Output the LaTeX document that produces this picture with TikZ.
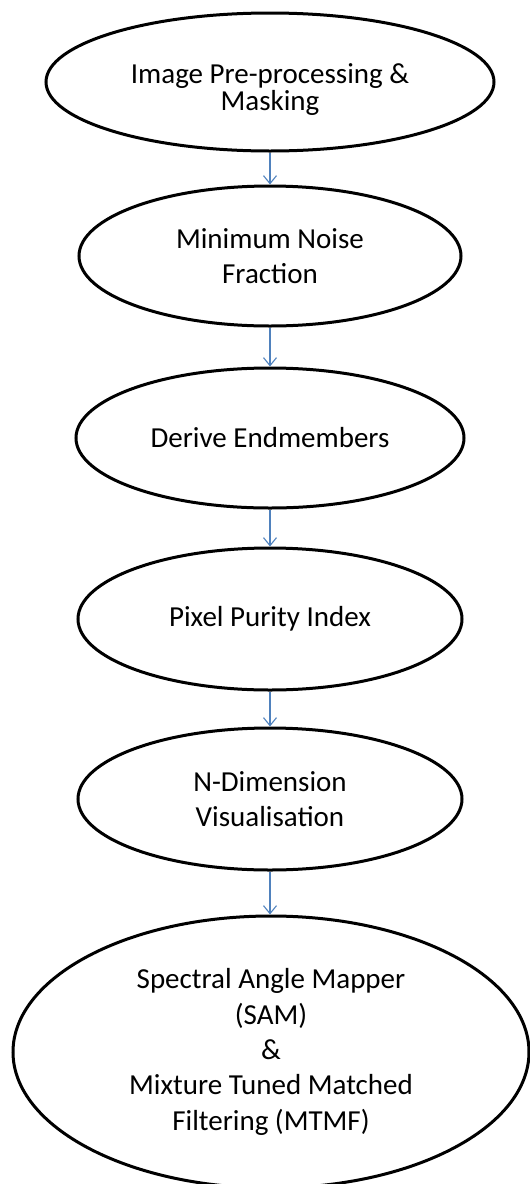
\documentclass[tikz,border=0pt]{standalone}
\usepackage{fontspec}
\setmainfont{Carlito}
\usetikzlibrary{shapes.geometric,arrows.meta}
\definecolor{flowblue}{HTML}{4F81BD}
\tikzset{
  stage/.style={ellipse, draw=black, line width=3pt, inner sep=0pt,
    align=center, font=\fontsize{29}{35.4}\selectfont},
  caption/.style={inner sep=0pt, align=center, font=\fontsize{29}{27}\selectfont},
  flow/.style={draw=flowblue, line width=1.1pt,
    -{Straight Barb[length=8pt,width=13pt,line width=1.1pt]}}
}
\begin{document}
\begin{tikzpicture}[x=1pt,y=-1pt]
  \useasboundingbox (0,0) rectangle (530,1184);
  \clip (0,0) rectangle (530,1184);
  % first stage: its two lines sit a little below the ellipse centre
  \node[stage, minimum width=448pt, minimum height=138pt] (pre) at (270,82) {};
  \node[caption] (pretext) at (270,90) {Image Pre-processing \&\\Masking};
  \node[stage, minimum width=382pt, minimum height=140pt] (mnf) at (270,256)
        {Minimum Noise\\Fraction};
  \node[stage, minimum width=388pt, minimum height=140pt] (end) at (270,438)
        {Derive Endmembers};
  \node[stage, minimum width=384pt, minimum height=142pt] (ppi) at (270,619)
        {Pixel Purity Index};
  \node[stage, minimum width=384pt, minimum height=142pt] (ndv) at (270,799)
        {N-Dimension\\Visualisation};
  \node[stage, minimum width=516pt, minimum height=272pt] (sam) at (271,1052)
        {Spectral Angle Mapper\\(SAM)\\\&\\Mixture Tuned Matched\\Filtering (MTMF)};
  \draw[flow] (pre.south) -- (mnf.north);
  \draw[flow] (mnf.south) -- (end.north);
  \draw[flow] (end.south) -- (ppi.north);
  \draw[flow] (ppi.south) -- (ndv.north);
  \draw[flow] (ndv.south) -- (sam.north -| ndv.south);
\end{tikzpicture}
\end{document}
